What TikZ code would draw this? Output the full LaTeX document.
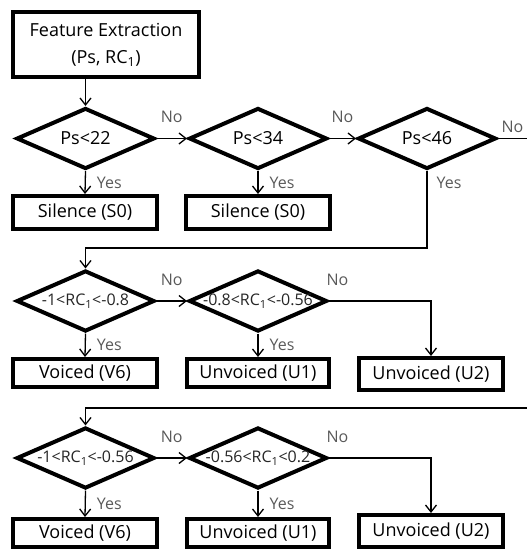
\documentclass[tikz,border=0pt]{standalone}
\usepackage{fontspec}
\setmainfont{Open Sans}
\usepackage{tikz}
\usetikzlibrary{shapes.geometric, arrows.meta}

% range text kept out of the diamond's size computation
\newcommand{\rctext}[1]{\raisebox{-0.55ex}[0pt][0pt]{#1}}

\begin{document}
\begin{tikzpicture}[x=1pt, y=-1pt, line join=miter,
    decision/.style={diamond, aspect=2.3, draw, line width=4pt, inner sep=0pt,
        minimum width=138pt, minimum height=61pt, font=\fontsize{18}{20}\selectfont},
    rcdecision/.style={decision, text=black!85, font=\fontsize{16}{18}\selectfont},
    outcome/.style={draw, line width=4pt, inner sep=0pt,
        minimum width=144pt, minimum height=30pt, font=\fontsize{18}{20}\selectfont},
    flow/.style={line width=1.3pt, -{Straight Barb[length=7pt, width=11pt]}},
    lbl/.style={text=black!65, inner sep=0pt, font=\fontsize{16}{18}\selectfont}]

    % Page frame (pixels of the reference, y going down)
    \useasboundingbox (0,0) rectangle (527,550);

    % Start box
    \node[outcome, minimum width=186pt, minimum height=65pt, align=center,
        font=\fontsize{18}{27}\selectfont] (feat) at (106,44.5)
        {Feature Extraction\\(Ps, RC\textsubscript{1})};

    % First row: Ps thresholds
    \node[decision] (ps22) at (85.5,138.5) {Ps<22};
    \node[decision] (ps34) at (258,138.5) {Ps<34};
    \node[decision] (ps46) at (427,138.5) {Ps<46};
    \node[outcome, minimum height=33pt] (s0a) at (85,212.5) {Silence (S0)};
    \node[outcome, minimum height=33pt] (s0b) at (258,212.5) {Silence (S0)};

    % Second row: RC1 ranges
    \node[rcdecision] (rca) at (85.5,301) {\rctext{-1<RC\textsubscript{1}<-0.8}};
    \node[rcdecision] (rcb) at (258,301) {\rctext{-0.8<RC\textsubscript{1}<-0.56}};
    \node[outcome, minimum height=28pt] (v6a) at (85,373) {Voiced (V6)};
    \node[outcome, minimum height=28pt, minimum width=142pt] (u1a) at (258,373) {Unvoiced (U1)};
    \node[outcome, minimum height=32pt] (u2a) at (431,374) {Unvoiced (U2)};

    % Third row: RC1 ranges
    \node[rcdecision] (rcc) at (85.5,458) {\rctext{-1<RC\textsubscript{1}<-0.56}};
    \node[rcdecision] (rcd) at (258,458) {\rctext{-0.56<RC\textsubscript{1}<0.2}};
    \node[outcome, minimum height=28pt] (v6b) at (85,533) {Voiced (V6)};
    \node[outcome, minimum height=28pt, minimum width=142pt] (u1b) at (258,533) {Unvoiced (U1)};
    \node[outcome, minimum height=32pt] (u2b) at (431,531) {Unvoiced (U2)};

    % Free ends and bends of the long lines
    \coordinate (edge1) at (527,138.5);
    \coordinate (bend1) at (427,248);
    \coordinate (edge2) at (527,408);

    % First row connectors
    \draw[flow] (feat.south -| ps22) -- (ps22.north);
    \draw[flow] (ps22.east) -- node[lbl, above=15pt] {No} (ps34.west);
    \draw[flow] (ps34.east) -- node[lbl, above=15pt] {No} (ps46.west);
    \draw[line width=1.3pt] (ps46.east) -- (edge1)
        node[lbl, pos=0, anchor=south west, xshift=3pt, yshift=5pt] {No};
    \draw[flow] (ps22.south) -- node[lbl, right=11pt] {Yes} (s0a.north);
    \draw[flow] (ps34.south) -- node[lbl, right=11pt] {Yes} (s0b.north);
    \draw[flow] (ps46.south) -- node[lbl, pos=0.16, right=9pt] {Yes} (bend1) -| (rca.north);

    % Second row connectors
    \draw[flow] (rca.east) -- node[lbl, above=15pt] {No} (rcb.west);
    \draw[flow] (rcb.east) -| (u2a.north)
        node[lbl, pos=0, anchor=south west, xshift=-3pt, yshift=15pt] {No};
    \draw[flow] (rca.south) -- node[lbl, right=11pt] {Yes} (v6a.north);
    \draw[flow] (rcb.south) -- node[lbl, right=11pt] {Yes} (u1a.north);

    % Third row connectors
    \draw[flow] (edge2) -| (rcc.north);
    \draw[flow] (rcc.east) -- node[lbl, above=15pt] {No} (rcd.west);
    \draw[flow] (rcd.east) -| (u2b.north)
        node[lbl, pos=0, anchor=south west, xshift=-3pt, yshift=15pt] {No};
    \draw[flow] (rcc.south) -- node[lbl, right=11pt] {Yes} (v6b.north);
    \draw[flow] (rcd.south) -- node[lbl, right=11pt] {Yes} (u1b.north);

\end{tikzpicture}
\end{document}
